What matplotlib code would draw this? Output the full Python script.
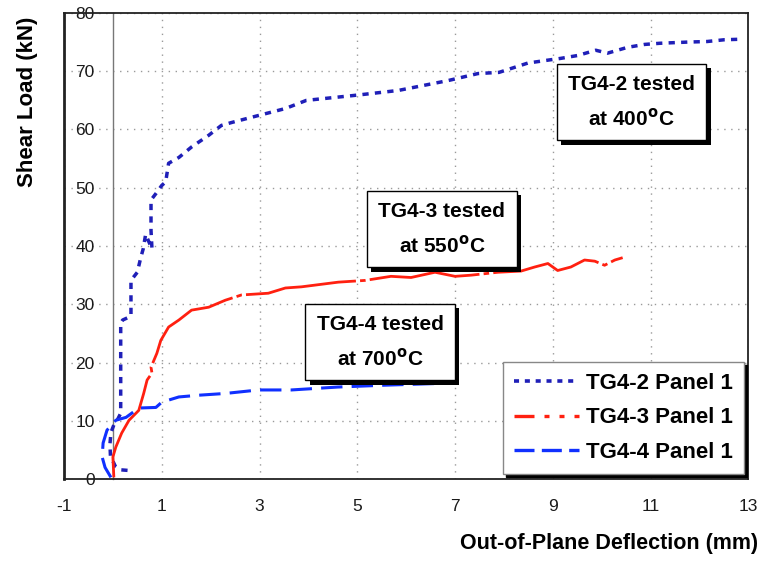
import numpy as np
import matplotlib
matplotlib.use('Agg')
import matplotlib.pyplot as plt
from matplotlib.lines import Line2D
import matplotlib.patheffects as pe

plt.rcParams['font.family'] = ['Liberation Sans', 'DejaVu Sans']
plt.rcParams['axes.unicode_minus'] = False

# ── data (deflection mm, shear load kN) ──
tg42_x = [0.30, 0.15, 0.05, -0.05, -0.06, -0.04, 0.02, 0.10, 0.16, 0.16, 0.20,
          0.33, 0.37, 0.37, 0.50, 0.57, 0.62, 0.67, 0.80, 0.78, 0.78, 0.88,
          1.00, 1.08, 1.14, 1.35, 1.61, 1.96, 2.22, 2.43, 2.84, 3.53, 3.96,
          5.00, 5.84, 6.86, 7.47, 7.90, 8.49, 8.90, 9.16, 9.51, 9.88, 10.12,
          10.53, 10.88, 11.20, 11.76, 12.16, 12.51, 12.88]
tg42_y = [1.5, 1.6, 2.2, 4.0, 6.0, 8.0, 9.3, 10.3, 11.3, 26.8, 27.3,
          27.8, 28.0, 34.1, 35.5, 38.0, 39.5, 42.0, 39.5, 42.7, 47.9, 49.0,
          50.4, 51.0, 54.2, 55.2, 57.0, 59.0, 60.7, 61.2, 62.1, 63.6, 65.0,
          65.9, 66.7, 68.4, 69.6, 69.8, 71.4, 71.9, 72.2, 72.7, 73.6, 73.1,
          74.1, 74.6, 74.8, 75.0, 75.1, 75.4, 75.5]

tg43_x = [0.02, 0.00, 0.06, 0.18, 0.33, 0.53, 0.63, 0.70, 0.80, 0.78, 0.90,
          0.98, 1.14, 1.35, 1.61, 1.96, 2.30, 2.63, 3.18, 3.53, 3.86, 4.61,
          5.16, 5.69, 6.10, 6.59, 7.00, 7.33, 7.88, 8.35, 8.63, 8.90, 9.10,
          9.37, 9.65, 9.86, 10.06, 10.27, 10.43]
tg43_y = [0.3, 3.8, 5.5, 7.9, 10.1, 11.8, 14.7, 17.0, 18.2, 19.2, 21.6,
          23.8, 26.1, 27.3, 29.0, 29.5, 30.7, 31.6, 31.9, 32.8, 33.0, 33.8,
          34.1, 34.8, 34.6, 35.5, 34.8, 35.0, 35.5, 35.7, 36.4, 37.0, 35.8,
          36.4, 37.6, 37.4, 36.7, 37.6, 38.0]

tg44_x = [-0.04, -0.16, -0.22, -0.20, -0.12, 0.06, 0.27, 0.53, 0.88, 1.00,
          1.35, 1.76, 2.30, 2.98, 3.65, 4.60, 5.50, 6.60]
tg44_y = [0.3, 2.0, 3.8, 6.2, 8.4, 10.1, 10.6, 12.2, 12.3, 13.2,
          14.1, 14.4, 14.7, 15.3, 15.3, 15.8, 16.1, 16.4]

series_labels = ['TG4-2 Panel 1', 'TG4-3 Panel 1', 'TG4-4 Panel 1']
note_texts = ['TG4-2 tested\nat 400$^{\\mathbf{o}}$C',
              'TG4-3 tested\nat 550$^{\\mathbf{o}}$C',
              'TG4-4 tested\nat 700$^{\\mathbf{o}}$C']
note_x = [10.61, 6.73, 5.47]
note_y = [64.7, 42.9, 23.5]

x_ticks = [-1, 1, 3, 5, 7, 9, 11, 13]
y_ticks = [0, 10, 20, 30, 40, 50, 60, 70, 80]

c42, c43, c44 = '#1f1fb8', '#ff2010', '#1030ff'

fig = plt.figure(figsize=(7.62, 5.63), dpi=100)
ax = fig.add_axes([0.084, 0.149, 0.898, 0.828])

ax.plot(tg42_x, tg42_y, color=c42, lw=2.5, ls=(0, (1.8, 1.8)), zorder=4)
ax.plot(tg43_x, tg43_y, color=c43, lw=2.0, ls=(0, (40, 1.5, 2, 1.5)), zorder=4)
ax.plot(tg44_x, tg44_y, color=c44, lw=2.2, ls=(0, (7, 3)), zorder=4)

ax.set_xlim(-1, 13)
ax.set_ylim(0, 80)
ax.set_xticks(x_ticks)
ax.set_yticks(y_ticks)
ax.grid(True, color='#9a9a9a', ls=(0, (1, 4)), lw=1.0)
ax.set_axisbelow(True)

# y axis crosses at x = 0, Excel style
ax.spines['left'].set_position(('data', 0))
ax.spines['left'].set_color('#777777')
ax.spines['left'].set_linewidth(1.0)
for s in ['top', 'right', 'bottom']:
    ax.spines[s].set_color('#222222')
    ax.spines[s].set_linewidth(1.3)
ax.plot([0, 0], [0, 1], transform=ax.transAxes, color='#222222', lw=2.0,
        clip_on=False, zorder=5)

ax.tick_params(axis='x', length=0, pad=14, labelsize=12.5, colors='#1a1a1a')
ax.tick_params(axis='y', length=0, pad=13, labelsize=12.5, colors='#1a1a1a')

# annotation boxes with a black drop shadow
for txt, tx, ty in zip(note_texts, note_x, note_y):
    t = ax.text(tx, ty, txt, ha='center', va='center', fontsize=15,
                fontweight='bold', linespacing=1.7, zorder=7,
                bbox=dict(boxstyle='square,pad=0.55', fc='white', ec='black', lw=1.0))
    t.get_bbox_patch().set_path_effects([
        pe.withSimplePatchShadow(offset=(3, -3), shadow_rgbFace='black', alpha=1.0)])

# legend keys drawn like the original's (short dashes, dash-dot, long dashes)
handles = [Line2D([], [], color=c42, lw=2.6, ls=(0, (1.4, 1.6))),
           Line2D([], [], color=c43, lw=2.4, ls=(0, (6, 3, 1.5, 3, 1.5, 3))),
           Line2D([], [], color=c44, lw=2.4, ls=(0, (6, 2.2)))]
leg = ax.legend(handles, series_labels, loc='upper left',
                bbox_to_anchor=(503 / 762, 1 - 362 / 563),
                bbox_transform=fig.transFigure, frameon=True, fancybox=False,
                shadow={'color': 'black', 'alpha': 1.0},
                edgecolor='#888888', framealpha=1,
                prop={'weight': 'bold', 'size': 16}, handlelength=2.9,
                borderpad=0.5, labelspacing=0.6, handletextpad=0.35,
                borderaxespad=0)
leg.set_zorder(8)

fig.text(0.036, 1 - 102 / 563, 'Shear Load (kN)', rotation=90, ha='center',
         va='center', fontsize=16, fontweight='bold')
fig.text(0.995, 1 - 544 / 563, 'Out-of-Plane Deflection (mm)', ha='right',
         va='center', fontsize=15.5, fontweight='bold')

fig.savefig('out.png', dpi=100, facecolor='white')
